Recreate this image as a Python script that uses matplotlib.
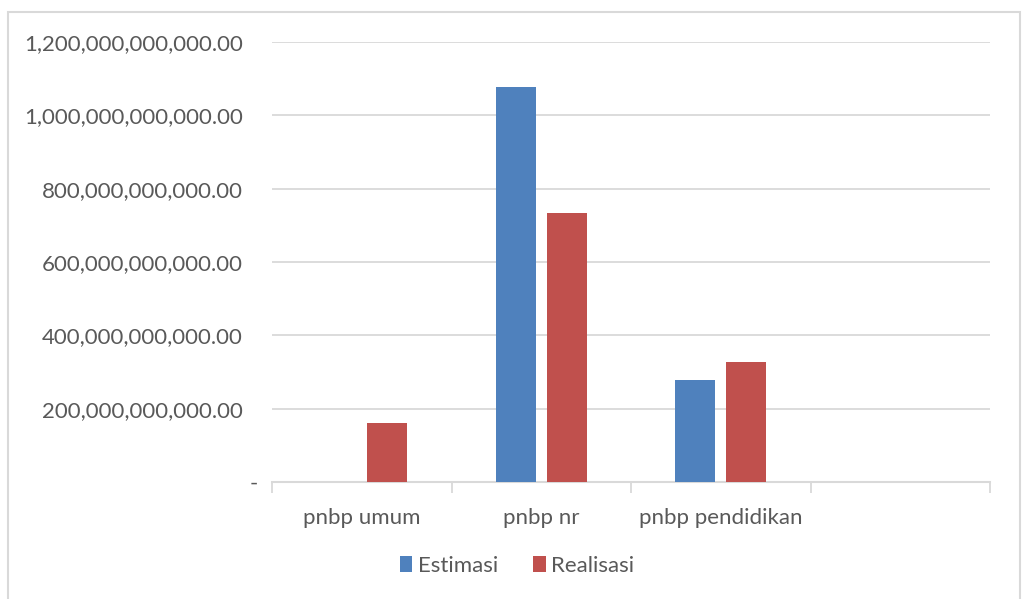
import numpy as np
import matplotlib
matplotlib.use("Agg")
import matplotlib.pyplot as plt
from matplotlib.patches import Rectangle
from matplotlib.transforms import ScaledTranslation

categories = ["pnbp umum", "pnbp nr", "pnbp pendidikan", ""]
estimasi = [0, 1077e9, 278e9, 0]
realisasi = [161e9, 734e9, 327e9, 0]
yticks = [0, 200e9, 400e9, 600e9, 800e9, 1000e9, 1200e9]

plt.rcParams['font.family'] = ['Lato', 'DejaVu Sans']
txt = '#595959'
grid = '#D9D9D9'

fig = plt.figure(figsize=(10.25, 5.99), dpi=100)
ax = fig.add_axes([272/1025, 1 - 482/599, (990-272)/1025, (482-42)/599])

x = np.arange(len(categories))
w = 0.222
off = 0.142
ax.bar(x - off, estimasi, w, color='#4F81BD', label='Estimasi', zorder=3)
ax.bar(x + off, realisasi, w, color='#C0504D', label='Realisasi', zorder=3)

ax.set_xlim(-0.5, 3.5)
ax.set_ylim(0, 1.2e12)
ax.set_yticks(yticks)
ax.set_yticklabels(['-'] + ['{:,.2f}'.format(v) for v in yticks[1:]])
ax.yaxis.grid(True, color=grid, linewidth=1.3, zorder=0)
ax.tick_params(axis='y', length=0, pad=21, labelsize=16, labelcolor=txt)

ax.set_xticks(x)
ax.set_xticklabels(categories)
ax.set_xticks(np.arange(-0.5, 4.0, 1), minor=True)
ax.tick_params(axis='x', which='major', length=0, pad=19, labelsize=16, labelcolor=txt)
ax.tick_params(axis='x', which='minor', length=8, width=1.3, color=grid)

for s in ['top', 'right', 'left']:
    ax.spines[s].set_visible(False)
ax.spines['bottom'].set_color(grid)
ax.spines['bottom'].set_linewidth(1.5)

lbl0 = ax.get_yticklabels()[0]
lbl0.set_transform(lbl0.get_transform() + ScaledTranslation(0.15, 0, fig.dpi_scale_trans))

fig.legend(loc='center', bbox_to_anchor=(517/1025, 1 - 566/599), ncol=2, frameon=False,
           fontsize=16, labelcolor=txt, handlelength=0.55, handleheight=0.75,
           handletextpad=0.25, columnspacing=1.6)

fig.patches.append(Rectangle((8/1025, -0.01), 1012/1025, 1 - 12/599 + 0.01,
                             transform=fig.transFigure, fill=False,
                             edgecolor=grid, linewidth=1.5))

fig.savefig('out.png', dpi=100)
